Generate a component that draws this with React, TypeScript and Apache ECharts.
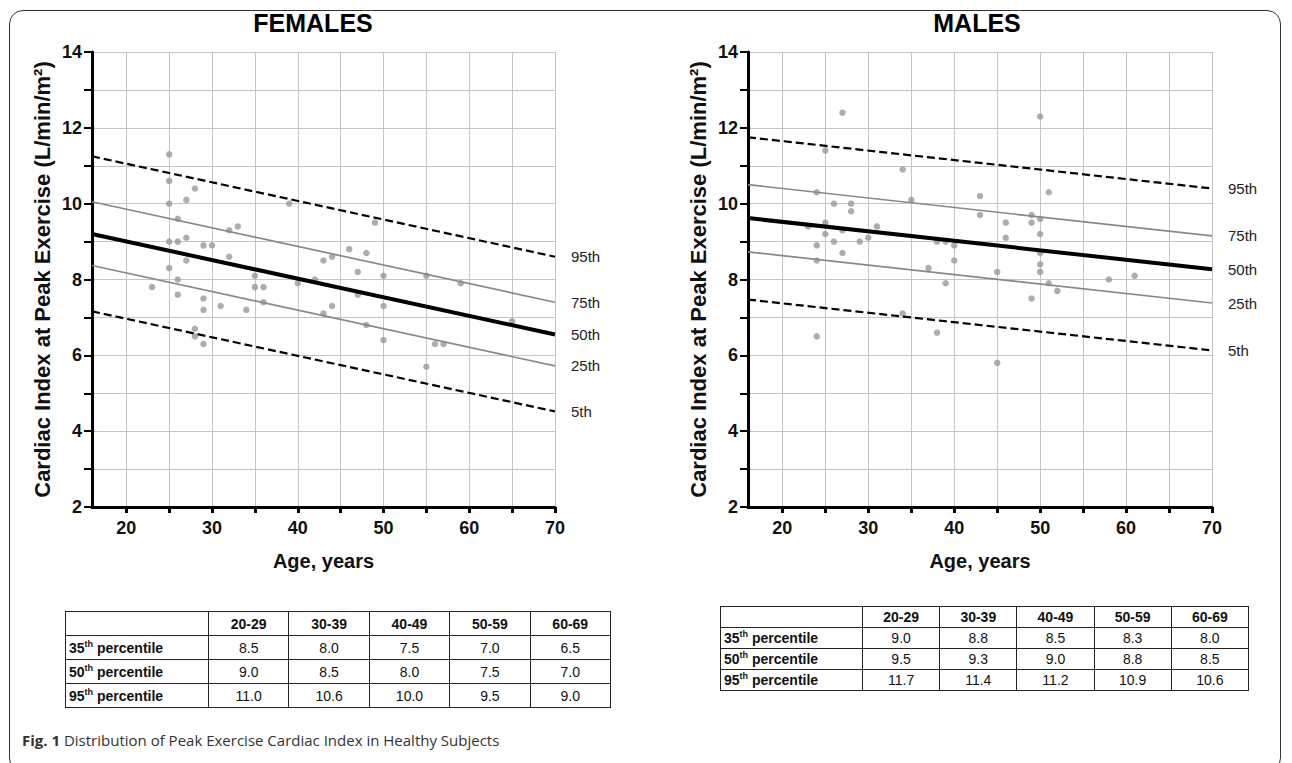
import React, { useEffect, useRef } from "react";
import * as echarts from "echarts";

// ---------- axes ----------
const xRange = [16, 70];
const yRange = [2, 14];
const xTickValues = [20, 25, 30, 35, 40, 45, 50, 55, 60, 65, 70];
const xLabelValues = [20, 30, 40, 50, 60, 70];
const yTickValues = [2, 3, 4, 5, 6, 7, 8, 9, 10, 11, 12, 13, 14];
const yLabelValues = [2, 4, 6, 8, 10, 12, 14];

// ---------- percentile regression lines (value at age 16, value at age 70) ----------
const percentileNames = ["95th", "75th", "50th", "25th", "5th"];
const female95 = [11.25, 8.6];
const female75 = [10.05, 7.4];
const female50 = [9.2, 6.55];
const female25 = [8.37, 5.72];
const female5 = [7.16, 4.52];
const male95 = [11.75, 10.4];
const male75 = [10.5, 9.15];
const male50 = [9.62, 8.27];
const male25 = [8.73, 7.38];
const male5 = [7.47, 6.13];

// ---------- individual subjects [age, cardiac index] ----------
const femalePoints = [
  [23, 7.8], [25, 11.3], [25, 10.6], [25, 10.0], [25, 9.0], [25, 8.3],
  [26, 9.6], [26, 9.0], [26, 8.0], [26, 7.6], [27, 10.1], [27, 9.1], [27, 8.5],
  [28, 10.4], [28, 6.7], [28, 6.5], [29, 8.9], [29, 7.5], [29, 7.2], [29, 6.3],
  [30, 8.9], [31, 7.3], [32, 9.3], [32, 8.6], [33, 9.4], [34, 7.2], [35, 8.1],
  [35, 7.8], [36, 7.8], [36, 7.4], [39, 10.0], [40, 7.9], [42, 8.0], [43, 8.5],
  [43, 7.1], [44, 8.6], [44, 7.3], [46, 8.8], [47, 8.2], [47, 7.6], [48, 8.7],
  [48, 6.8], [49, 9.5], [50, 8.1], [50, 7.3], [50, 6.4], [55, 8.1], [55, 5.7],
  [56, 6.3], [57, 6.3], [59, 7.9], [65, 6.9],
];
const malePoints = [
  [23, 9.4], [24, 10.3], [24, 8.9], [24, 8.5], [24, 6.5], [25, 11.4], [25, 9.5],
  [25, 9.2], [26, 10.0], [26, 9.0], [27, 12.4], [27, 9.3], [27, 8.7], [28, 10.0],
  [28, 9.8], [29, 9.0], [30, 9.1], [31, 9.4], [34, 10.9], [34, 7.1], [35, 10.1],
  [37, 8.3], [38, 9.0], [38, 6.6], [39, 9.0], [39, 7.9], [40, 8.9], [40, 8.5],
  [43, 10.2], [43, 9.7], [45, 8.2], [45, 5.8], [46, 9.5], [46, 9.1], [49, 9.7],
  [49, 9.5], [49, 7.5], [50, 12.3], [50, 9.6], [50, 9.2], [50, 8.7], [50, 8.4],
  [50, 8.2], [51, 10.3], [51, 7.9], [52, 7.7], [58, 8.0], [61, 8.1],
];

// ---------- tables ----------
const ageGroups = ["20-29", "30-39", "40-49", "50-59", "60-69"];
const tableRowPercentiles = ["35", "50", "95"];
const femaleRow35 = ["8.5", "8.0", "7.5", "7.0", "6.5"];
const femaleRow50 = ["9.0", "8.5", "8.0", "7.5", "7.0"];
const femaleRow95 = ["11.0", "10.6", "10.0", "9.5", "9.0"];
const maleRow35 = ["9.0", "8.8", "8.5", "8.3", "8.0"];
const maleRow50 = ["9.5", "9.3", "9.0", "8.8", "8.5"];
const maleRow95 = ["11.7", "11.4", "11.2", "10.9", "10.6"];

const FONT = 'Arial, "Liberation Sans", Helvetica, sans-serif';

const lineStyles = [
  { color: "#000", width: 2.2, type: [8, 4] },
  { color: "#888", width: 1.7, type: "solid" },
  { color: "#000", width: 4, type: "solid" },
  { color: "#888", width: 1.7, type: "solid" },
  { color: "#000", width: 2.2, type: [8, 4] },
];

function makeX(gridIndex: number) {
  return {
    type: "value",
    gridIndex,
    min: xRange[0],
    max: xRange[1],
    name: "Age, years",
    nameLocation: "middle",
    nameGap: 44,
    nameTextStyle: { fontSize: 20, fontWeight: "bold", color: "#111", fontFamily: FONT },
    axisLine: { show: true, onZero: false, lineStyle: { color: "#000", width: 3 } },
    axisTick: { show: true, customValues: xTickValues, length: 6, lineStyle: { color: "#000", width: 3 } },
    axisLabel: { customValues: xLabelValues, margin: 12, fontSize: 18, fontWeight: "bold", color: "#111", fontFamily: FONT },
    splitLine: { show: true, lineStyle: { color: "#c4c4c4", width: 1 } },
  };
}

function makeY(gridIndex: number) {
  return {
    type: "value",
    gridIndex,
    min: yRange[0],
    max: yRange[1],
    name: "Cardiac Index at Peak Exercise (L/min/m²)",
    nameLocation: "middle",
    nameGap: 39,
    nameTextStyle: { fontSize: 22, fontWeight: "bold", color: "#111", fontFamily: FONT },
    axisLine: { show: true, onZero: false, lineStyle: { color: "#000", width: 3 } },
    axisTick: { show: true, customValues: yTickValues, length: 8, lineStyle: { color: "#000", width: 2 } },
    axisLabel: { customValues: yLabelValues, margin: 10, fontSize: 18, fontWeight: "bold", color: "#111", fontFamily: FONT },
    splitLine: { show: true, lineStyle: { color: "#c4c4c4", width: 1 } },
  };
}

function makeSeries(idx: number, points: number[][], lines: number[][]) {
  const out: any[] = [
    {
      type: "scatter",
      xAxisIndex: idx,
      yAxisIndex: idx,
      data: points,
      symbolSize: 6.5,
      itemStyle: { color: "#999999" },
      silent: true,
      z: 2,
    },
  ];
  lines.forEach((vals, i) => {
    out.push({
      type: "line",
      name: percentileNames[i],
      xAxisIndex: idx,
      yAxisIndex: idx,
      data: [
        [xRange[0], vals[0]],
        [xRange[1], vals[1]],
      ],
      symbol: "none",
      silent: true,
      lineStyle: lineStyles[i],
      endLabel: {
        show: true,
        formatter: percentileNames[i],
        distance: 16,
        fontSize: 15,
        color: "#222",
        fontFamily: FONT,
      },
      z: 3,
    });
  });
  return out;
}

function PercentileTable(props: {
  left: number;
  top: number;
  firstWidth: number;
  colWidth: number;
  rowHeight: number;
  rows: string[][];
}) {
  const { left, top, firstWidth, colWidth, rowHeight, rows } = props;
  const cell: React.CSSProperties = {
    border: "1px solid #222",
    height: rowHeight - 1,
    padding: 0,
    textAlign: "center",
    fontSize: 14,
    color: "#111",
    fontFamily: FONT,
  };
  return (
    <table
      style={{
        position: "absolute",
        left,
        top,
        borderCollapse: "collapse",
        tableLayout: "fixed",
        width: firstWidth + colWidth * 5,
      }}
    >
      <colgroup>
        <col style={{ width: firstWidth }} />
        {ageGroups.map((g) => (
          <col key={g} style={{ width: colWidth }} />
        ))}
      </colgroup>
      <tbody>
        <tr>
          <td style={cell}></td>
          {ageGroups.map((g) => (
            <td key={g} style={{ ...cell, fontWeight: "bold" }}>
              {g}
            </td>
          ))}
        </tr>
        {rows.map((r, i) => (
          <tr key={i}>
            <td style={{ ...cell, textAlign: "left", fontWeight: "bold", paddingLeft: 3 }}>
              {tableRowPercentiles[i]}
              <sup style={{ fontSize: 9, lineHeight: 0 }}>th</sup> percentile
            </td>
            {r.map((v, j) => (
              <td key={j} style={cell}>
                {v}
              </td>
            ))}
          </tr>
        ))}
      </tbody>
    </table>
  );
}

export default function App() {
  const ref = useRef<HTMLDivElement>(null);

  useEffect(() => {
    document.body.style.margin = "0";
    if (!ref.current) return;
    const chart = echarts.init(ref.current, undefined, { renderer: "svg" });
    const option: any = {
      animation: false,
      backgroundColor: "transparent",
      textStyle: { fontFamily: FONT },
      grid: [
        { left: 92, top: 52, width: 463, height: 455 },
        { left: 748, top: 52, width: 464, height: 455 },
      ],
      xAxis: [makeX(0), makeX(1)],
      yAxis: [makeY(0), makeY(1)],
      graphic: [
        {
          type: "text",
          x: 313,
          y: 23,
          style: {
            text: "FEMALES",
            font: `bold 25px ${FONT}`,
            fill: "#000",
            align: "center",
            verticalAlign: "middle",
          },
        },
        {
          type: "text",
          x: 977,
          y: 23,
          style: {
            text: "MALES",
            font: `bold 25px ${FONT}`,
            fill: "#000",
            align: "center",
            verticalAlign: "middle",
          },
        },
      ],
      series: [
        ...makeSeries(0, femalePoints, [female95, female75, female50, female25, female5]),
        ...makeSeries(1, malePoints, [male95, male75, male50, male25, male5]),
      ],
    };
    chart.setOption(option);
    return () => chart.dispose();
  }, []);

  return (
    <div
      style={{
        position: "relative",
        width: 1292,
        height: 763,
        overflow: "hidden",
        background: "#fff",
      }}
    >
      <div
        style={{
          position: "absolute",
          left: 9,
          top: 10,
          width: 1272,
          height: 762,
          border: "1.5px solid #333",
          borderRadius: 14,
          boxSizing: "border-box",
        }}
      />
      <div ref={ref} style={{ position: "absolute", left: 0, top: 0, width: 1292, height: 600 }} />
      <PercentileTable
        left={65}
        top={611}
        firstWidth={143}
        colWidth={80.4}
        rowHeight={24}
        rows={[femaleRow35, femaleRow50, femaleRow95]}
      />
      <PercentileTable
        left={720}
        top={606}
        firstWidth={142}
        colWidth={77.2}
        rowHeight={21}
        rows={[maleRow35, maleRow50, maleRow95]}
      />
      <div
        style={{
          position: "absolute",
          left: 22,
          top: 730,
          fontFamily: '"Open Sans", "Noto Sans", sans-serif',
          fontSize: 15,
          color: "#333",
          whiteSpace: "nowrap",
        }}
      >
        <b>Fig. 1</b> Distribution of Peak Exercise Cardiac Index in Healthy Subjects
      </div>
    </div>
  );
}
